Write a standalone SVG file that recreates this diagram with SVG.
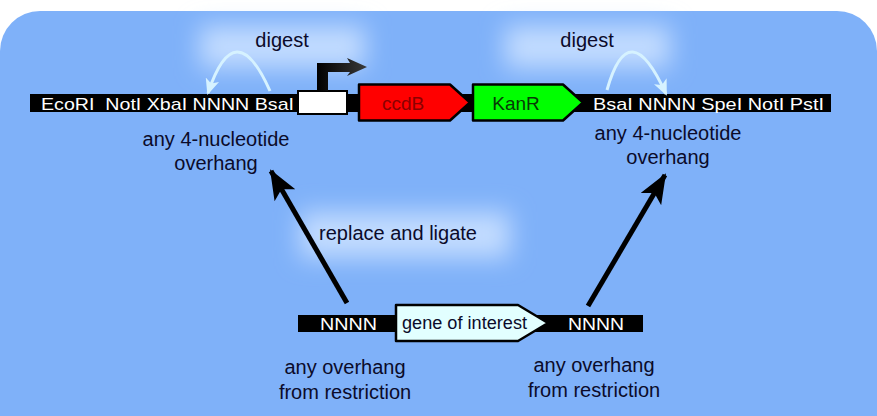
<svg xmlns="http://www.w3.org/2000/svg" width="877" height="416" viewBox="0 0 877 416">
<style>
text{font-family:"Liberation Sans",Arial,sans-serif}
.lbl{font-size:20px;fill:#0b0b2a;text-anchor:middle}
.bar{font-size:17px;fill:#ffffff}
.gene{stroke:#000;stroke-width:2.5;stroke-linejoin:round}
.curve{fill:none;stroke:#d6f2ff;stroke-width:3}
.big{fill:none;stroke:#000;stroke-width:5}
</style>
<defs>
<filter id="blur" x="-40%" y="-80%" width="180%" height="260%"><feGaussianBlur stdDeviation="12"/></filter>
<marker id="lh" viewBox="0 0 16 14" refX="14" refY="7" markerWidth="16" markerHeight="14" markerUnits="userSpaceOnUse" orient="auto"><path d="M0,0 L16,7 L0,14 L4,7 Z" fill="#d6f2ff"/></marker>
<marker id="bh" viewBox="0 0 30 24" refX="28" refY="12" markerWidth="30" markerHeight="24" markerUnits="userSpaceOnUse" orient="auto"><path d="M0,0 L30,12 L0,24 L7,12 Z" fill="#000"/></marker>
<linearGradient id="prom" x1="0" y1="0" x2="1" y2="0"><stop offset="0" stop-color="#000"/><stop offset="1" stop-color="#3a3a3a"/></linearGradient>
</defs>
<rect x="0" y="11" width="877" height="450" rx="40" fill="#7fb1f9"/>
<g id="glows">
<rect x="200" y="26" width="165" height="42" fill="#c2dcff" filter="url(#blur)"/>
<rect x="505" y="26" width="165" height="42" fill="#c2dcff" filter="url(#blur)"/>
<rect x="300" y="212" width="210" height="46" fill="#c2dcff" filter="url(#blur)"/>
</g>
<g id="vector">
<rect x="30" y="94" width="801" height="18" fill="#000"/>
<text class="bar" x="41" y="110" textLength="253" lengthAdjust="spacingAndGlyphs" xml:space="preserve">EcoRI  NotI XbaI NNNN BsaI</text>
<text class="bar" x="593" y="110" textLength="231" lengthAdjust="spacingAndGlyphs">BsaI NNNN SpeI NotI PstI</text>
</g>
<g id="promoter">
<rect x="298" y="91" width="49" height="23" fill="#fff" stroke="#000" stroke-width="2"/>
<path d="M317,91 L317,63 L350,63 L347,58 L367,67 L347,76 L350,72 L328,72 L328,91 Z" fill="url(#prom)"/>
</g>
<g id="ccdB">
<path class="gene" d="M359,84.5 L450,84.5 L470,102.5 L450,120.5 L359,120.5 Z" fill="#ff0000"/>
<text x="403" y="110" font-size="19" fill="#8a0000" text-anchor="middle">ccdB</text>
</g>
<g id="KanR">
<path class="gene" d="M473,84.5 L563,84.5 L583,102.5 L563,120.5 L473,120.5 Z" fill="#00ff00"/>
<text x="516" y="110" font-size="19" fill="#063a06" text-anchor="middle">KanR</text>
</g>
<g id="insert">
<rect x="298" y="315" width="345" height="17" fill="#000"/>
<text class="bar" x="320" y="330" textLength="57" lengthAdjust="spacingAndGlyphs">NNNN</text>
<text class="bar" x="568" y="330" textLength="56" lengthAdjust="spacingAndGlyphs">NNNN</text>
<path class="gene" d="M396,305 L518,305 L548,323 L518,341 L396,341 Z" fill="#e2ffff"/>
<text x="402" y="329" font-size="18" fill="#0b0b2a" textLength="125" lengthAdjust="spacingAndGlyphs">gene of interest</text>
</g>
<g id="labels">
<text class="lbl" x="282" y="47">digest</text>
<text class="lbl" x="587" y="47">digest</text>
<text class="lbl" x="216" y="146">any 4-nucleotide</text>
<text class="lbl" x="216" y="170">overhang</text>
<text class="lbl" x="668" y="140">any 4-nucleotide</text>
<text class="lbl" x="668" y="164">overhang</text>
<text class="lbl" x="398" y="240">replace and ligate</text>
<text class="lbl" x="345" y="374">any overhang</text>
<text class="lbl" x="345" y="399">from restriction</text>
<text class="lbl" x="594" y="372">any overhang</text>
<text class="lbl" x="594" y="397">from restriction</text>
</g>
<g id="connectors">
<path class="curve" d="M270,91 Q235,12 208,93" marker-end="url(#lh)"/>
<path class="curve" d="M607,90 Q629,12 666,94" marker-end="url(#lh)"/>
<path class="big" d="M347,303 L271,171" marker-end="url(#bh)"/>
<path class="big" d="M588,306 L665,175" marker-end="url(#bh)"/>
</g>
</svg>
